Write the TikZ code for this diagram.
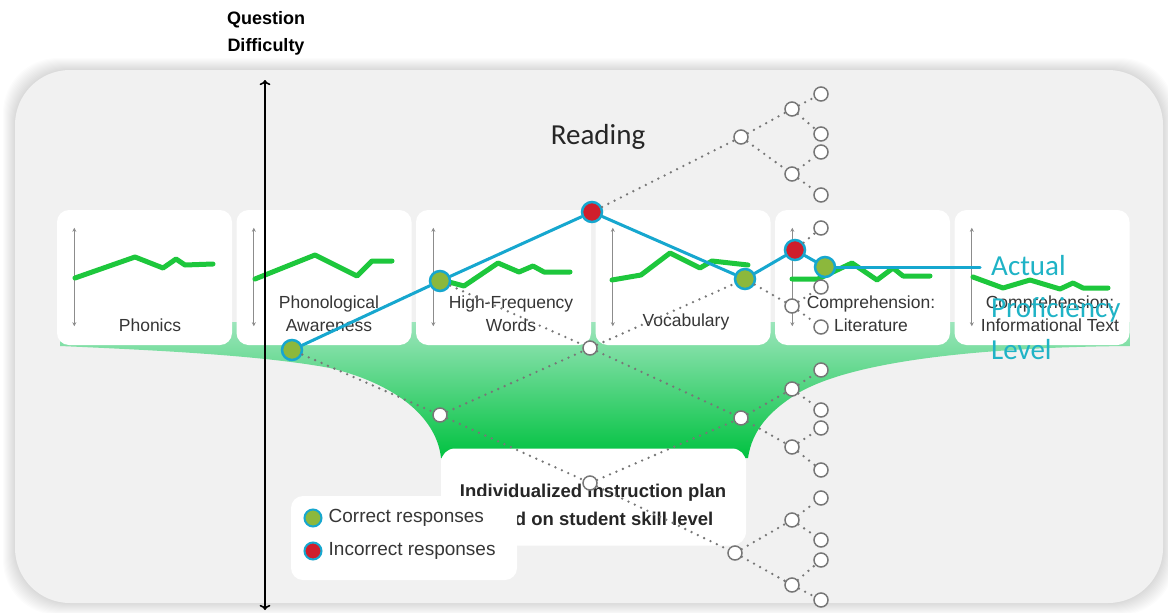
\documentclass[tikz,border=0pt]{standalone}
\usepackage{fontspec}
\setmainfont{Liberation Sans}
\newfontfamily\calibri{Carlito}
\usetikzlibrary{arrows.meta}

\definecolor{panelgray}{HTML}{F1F1F1}
\definecolor{cardgreen}{HTML}{1DC73C}
\definecolor{mint}{HTML}{9CE5BB}
\definecolor{midgreen}{HTML}{30CD63}
\definecolor{deepgreen}{HTML}{00C240}
\definecolor{profblue}{HTML}{16A7CF}
\definecolor{proftext}{HTML}{1FB3C6}
\definecolor{okfill}{HTML}{8CB83C}
\definecolor{badfill}{HTML}{D01E2C}
\definecolor{dotgray}{HTML}{777777}
\definecolor{axisgray}{HTML}{8C8C8C}
\definecolor{labelgray}{HTML}{363636}

\begin{document}
\begin{tikzpicture}[x=1pt, y=-1pt,
    card/.style={fill=white, rounded corners=12pt, minimum width=175pt, minimum height=135pt, inner sep=0pt},
    cardlabel/.style={text=labelgray, align=center, inner sep=0pt, font=\fontsize{17.5}{23}\selectfont},
    trend/.style={draw=cardgreen, line width=5pt, line join=round, line cap=round},
    cardaxis/.style={{Stealth[length=4pt,width=4pt]}-{Stealth[length=4pt,width=4pt]}, draw=axisgray, line width=1.2pt},
    opendot/.style={circle, draw=dotgray, fill=white, line width=1.5pt, minimum size=14pt, inner sep=0pt},
    okdot/.style={circle, draw=profblue, fill=okfill, line width=2.5pt, minimum size=20pt, inner sep=0pt},
    baddot/.style={okdot, fill=badfill},
    treeedge/.style={draw=dotgray, line width=2.6pt, line cap=round, dash pattern=on 0pt off 7pt},
    profline/.style={draw=profblue, line width=3pt, line cap=round},
    legendtext/.style={text=labelgray, inner sep=2pt, font=\fontsize{19}{23}\selectfont}
  ]
  \fill[white] (0,0) rectangle (1168,613);
  \useasboundingbox (0,0) rectangle (1168,613);

  \foreach \k in {1,...,12}
    \fill[black, opacity=0.01, rounded corners=55pt] (15-\k,70-\k) rectangle (1163+\k,603+\k);
  \fill[panelgray, rounded corners=55pt] (15,70) rectangle (1163,603);

  \shade[top color=mint, middle color=midgreen, bottom color=deepgreen]
    (60,322) -- (1130,322) -- (1130,346)
    .. controls (1000,347) and (860,358) .. (800,392)
    .. controls (770,410) and (752,430) .. (748,458)
    -- (441,458)
    .. controls (437,420) and (400,385) .. (330,368)
    .. controls (260,355) and (150,350) .. (60,346) -- cycle;

  \foreach \i in {0,...,5}
    {
      \node[card] (card\i) at ({144.5+179.5*\i}, 277.5) {};
      \draw[cardaxis] ([xshift=17.5pt, yshift=-18pt]card\i.north west) -- ([xshift=17.5pt, yshift=19pt]card\i.south west);
    }

  \draw[trend] (75,278) -- (135,257) -- (163,268) -- (176,259) -- (185,265) -- (213,264);
  \draw[trend] (255,279) -- (315,255) -- (357,276) -- (372,261) -- (392,261);
  \draw[trend] (449,282) -- (464,286) -- (498,263) -- (519,272) -- (533,266) -- (544,272) -- (570,272);
  \draw[trend] (612,280) -- (641,275) -- (670,253) -- (700,268) -- (712,261) -- (748,265);
  \draw[trend] (792,279) -- (818,279) -- (852,263) -- (877,280) -- (893,268) -- (903,276) -- (930,276);
  \draw[trend] (973,277) -- (1003,288) -- (1030,280) -- (1060,289) -- (1073,283) -- (1083,288) -- (1108,288);

  \node[cardlabel] (phonics) at (150,325) {Phonics};
  \node[cardlabel] (phono) at (329,314) {Phonological\\Awareness};
  \node[cardlabel] (hfw) at (511,314) {High-Frequency\\Words};
  \node[cardlabel] (vocab) at (686,322) {Vocabulary};
  \node[cardlabel] (complit) at (871,314) {Comprehension:\\Literature};
  \node[cardlabel] (compinfo) at (1050,314) {Comprehension:\\Informational Text};

  \node[font=\calibri\fontsize{29}{34}\selectfont, text=black!85] (reading) at (598,137) {Reading};

  \node[card, rounded corners=14pt, minimum width=305pt, minimum height=97pt] (plan) at (593.5,497) {};
  \node[font=\bfseries\fontsize{18.5}{28}\selectfont, text=black!85, align=center] (plantext) at (593,505)
    {Individualized instruction plan\\based on student skill level};

  \node[card, minimum width=226pt, minimum height=84pt] (legend) at (404,538) {};
  \node[okdot, minimum size=17pt, line width=2pt] (lgok) at (313,518) {};
  \node[legendtext, anchor=west] (lgoktext) at ([xshift=4pt]lgok.east) {Correct responses};
  \node[baddot, minimum size=17pt, line width=2pt] (lgbad) at (313,551) {};
  \node[legendtext, anchor=west] (lgbadtext) at ([xshift=4pt]lgbad.east) {Incorrect responses};

  \node[font=\bfseries\fontsize{18}{27}\selectfont, align=center] (qdiff) at (266,33) {Question\\Difficulty};
  \coordinate (dtop) at (265,80);
  \coordinate (dbot) at (265,610);
  \draw[<->, line width=1.6pt] (dtop) -- (dbot);

  \node[okdot] (v0) at (292,350) {};
  \node[okdot] (v1a) at (440,281) {};
  \node[opendot] (v1b) at (440,415) {};
  \node[baddot] (v2a) at (592,212) {};
  \node[opendot] (v2b) at (590,348) {};
  \node[opendot] (v2c) at (590,483) {};
  \node[opendot] (v3a) at (741,137) {};
  \node[okdot] (v3b) at (745,279) {};
  \node[opendot] (v3c) at (741,418) {};
  \node[opendot] (v3d) at (735,553) {};
  \foreach \n/\y in {a/109, b/174, d/306, e/389, f/447, g/520, h/585}
    \node[opendot] (v4\n) at (792,\y) {};
  \node[baddot] (v4c) at (795,250) {};
  \foreach \n/\ya/\yb in {a/94/134, b/152/195, d/287/327, e/370/410, f/428/470, g/498/540, h/560/600}
    {
      \node[opendot] (v5\n1) at (821,\ya) {};
      \node[opendot] (v5\n2) at (821,\yb) {};
    }
  \node[opendot] (v5c1) at (821,228) {};
  \node[okdot] (v5c2) at (825,267) {};

  \foreach \a/\b in {v0/v1a, v0/v1b, v1a/v2a, v1a/v2b, v1b/v2b, v1b/v2c, v2a/v3a, v2a/v3b, v2b/v3b, v2b/v3c,
                     v2c/v3c, v2c/v3d, v3a/v4a, v3a/v4b, v3b/v4c, v3b/v4d, v3c/v4e, v3c/v4f, v3d/v4g, v3d/v4h}
    \draw[treeedge] (\a) -- (\b);
  \foreach \n in {a,b,c,d,e,f,g,h}
    \draw[treeedge] (v4\n) -- (v5\n1) (v4\n) -- (v5\n2);

  \coordinate (profend) at (980,267);
  \draw[profline] (v0) -- (v1a);
  \draw[profline] (v1a) -- (v2a);
  \draw[profline] (v2a) -- (v3b);
  \draw[profline] (v3b) -- (v4c);
  \draw[profline] (v4c) -- (v5c2);
  \draw[profline] (v5c2) -- (profend);

  \node[font=\calibri\fontsize{29}{42}\selectfont, text=proftext, align=left, inner sep=0pt, anchor=north west] (proflabel) at (991,255)
    {Actual\\Proficiency\\Level};
\end{tikzpicture}
\end{document}
